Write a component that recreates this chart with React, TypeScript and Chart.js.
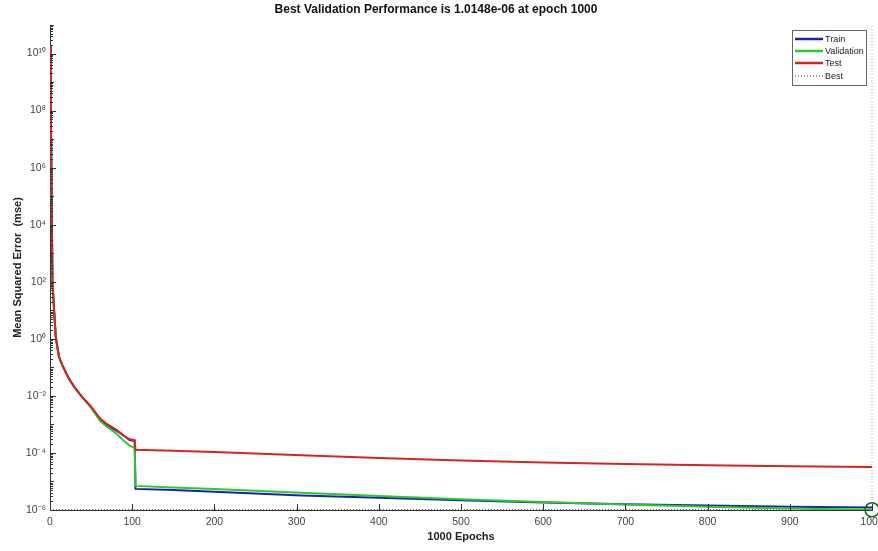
import React, { useEffect, useRef } from 'react';
import { Chart, registerables } from 'chart.js';

Chart.register(...registerables);

// ---- data ----
const trainEpochs = [0, 1, 2, 3, 5, 7, 9, 11, 15, 20, 24, 30, 38, 50, 61, 70, 81, 90, 97, 103, 104, 150, 200, 306, 400, 500, 600, 700, 800, 900, 1000];
const trainMse = [1.8e10, 1e8, 1e5, 1e2, 10, 1.2, 0.5, 0.23, 0.12, 0.06, 0.036, 0.02, 0.01, 0.004, 0.0015, 0.0009, 0.0006, 0.0004, 0.00028, 0.00026, 5.5e-6, 5e-6, 4.4e-6, 3.2e-6, 2.7e-6, 2.2e-6, 1.85e-6, 1.6e-6, 1.45e-6, 1.3e-6, 1.22e-6];

const valEpochs = [0, 1, 2, 3, 5, 7, 9, 11, 15, 20, 24, 30, 38, 50, 61, 70, 81, 90, 97, 103, 104, 150, 200, 306, 400, 500, 600, 700, 800, 900, 1000];
const valMse = [1.8e10, 1e8, 1e5, 1e2, 10, 1.2, 0.5, 0.23, 0.12, 0.06, 0.036, 0.02, 0.01, 0.0038, 0.0013, 0.0008, 0.00047, 0.00026, 0.00018, 0.00015, 7e-6, 6.2e-6, 5.4e-6, 4e-6, 3.1e-6, 2.4e-6, 1.9e-6, 1.55e-6, 1.3e-6, 1.13e-6, 1.0148e-6];

const testEpochs = [0, 1, 2, 3, 5, 7, 9, 11, 15, 20, 24, 30, 38, 50, 61, 70, 81, 90, 97, 103, 104, 150, 200, 306, 400, 500, 600, 700, 800, 900, 1000];
const testMse = [1.8e10, 1e8, 1e5, 1e2, 10, 1.2, 0.5, 0.23, 0.12, 0.06, 0.036, 0.02, 0.01, 0.0042, 0.0016, 0.001, 0.00065, 0.0004, 0.0003, 0.00028, 0.00013, 0.00012, 0.000108, 0.000083, 0.000066, 0.000054, 0.000046, 0.000041, 0.000037, 0.000034, 0.000032];

const bestEpoch = 1000;
const bestValue = 1.0148e-6;

const xTicks = [0, 100, 200, 300, 400, 500, 600, 700, 800, 900, 1000];
const xTickLabels = ['0', '100', '200', '300', '400', '500', '600', '700', '800', '900', '1000'];
const yTickExponents = [-6, -4, -2, 0, 2, 4, 6, 8, 10];
const yTickLabels = ['10⁻⁶', '10⁻⁴', '10⁻²', '10⁰', '10²', '10⁴', '10⁶', '10⁸', '10¹⁰'];

const seriesNames = ['Train', 'Validation', 'Test', 'Best'];
const seriesColors = ['#1a22b0', '#2ec82e', '#d42424', '#333333'];

const titleText = 'Best Validation Performance is 1.0148e-06 at epoch 1000';
const xTitle = '1000 Epochs';
const yTitle = 'Mean Squared Error  (mse)';

const FONT = "'Liberation Sans', Arial, Helvetica, sans-serif";

const toXY = (xs: number[], ys: number[]) => xs.map((x, i) => ({ x, y: ys[i] }));

const innerTicks = {
  id: 'innerTicks',
  afterDatasetsDraw(chart: any) {
    const { ctx, chartArea, scales } = chart;
    const { left, bottom } = chartArea;
    const x = scales.x;
    const y = scales.y;
    ctx.save();
    ctx.strokeStyle = '#333';
    ctx.lineWidth = 1;
    ctx.beginPath();
    for (const v of xTicks) {
      const px = Math.round(x.getPixelForValue(v)) + 0.5;
      ctx.moveTo(px, bottom);
      ctx.lineTo(px, bottom - 6);
    }
    for (let e = -6; e <= 10; e++) {
      for (let k = 1; k <= 9; k++) {
        const v = k * Math.pow(10, e);
        const py = Math.round(y.getPixelForValue(v)) + 0.5;
        const len = k === 1 ? (e % 2 === 0 ? 6 : 4) : 3;
        ctx.moveTo(left, py);
        ctx.lineTo(left + len, py);
      }
    }
    const pTop = Math.round(y.getPixelForValue(1e11)) + 0.5;
    ctx.moveTo(left, pTop);
    ctx.lineTo(left + 4, pTop);
    ctx.stroke();
    ctx.restore();
  },
};

const boxLegend = {
  id: 'boxLegend',
  afterDraw(chart: any) {
    const { ctx, chartArea } = chart;
    const bx = chartArea.right - 80;
    const by = chartArea.top + 5;
    const bw = 74;
    const bh = 55;
    ctx.save();
    ctx.fillStyle = '#fff';
    ctx.fillRect(bx, by, bw, bh);
    ctx.strokeStyle = '#666';
    ctx.lineWidth = 1;
    ctx.strokeRect(bx + 0.5, by + 0.5, bw, bh);
    ctx.font = `9px ${FONT}`;
    ctx.textBaseline = 'middle';
    ctx.textAlign = 'left';
    const offs = [9, 21, 33, 46];
    seriesNames.forEach((name, i) => {
      const ly = by + offs[i];
      ctx.beginPath();
      if (i === 3) {
        ctx.setLineDash([1, 2]);
        ctx.lineWidth = 1;
      } else {
        ctx.setLineDash([]);
        ctx.lineWidth = 2.5;
      }
      ctx.strokeStyle = seriesColors[i];
      ctx.moveTo(bx + 3, ly);
      ctx.lineTo(bx + 31, ly);
      ctx.stroke();
      ctx.fillStyle = '#222';
      ctx.fillText(name, bx + 33, ly + 0.5);
    });
    ctx.restore();
  },
};

export default function App() {
  const ref = useRef<HTMLCanvasElement | null>(null);

  useEffect(() => {
    document.body.style.margin = '0';
    const canvas = ref.current;
    if (!canvas) return;
    const chart = new Chart(canvas, {
      type: 'line',
      data: {
        datasets: [
          {
            label: 'Best',
            data: [{ x: 0, y: bestValue }, { x: bestEpoch, y: bestValue }],
            borderColor: seriesColors[3],
            borderWidth: 1,
            borderDash: [1, 2],
            pointRadius: 0,
            clip: false,
            order: 6,
          },
          {
            label: 'Best vertical',
            data: [{ x: bestEpoch, y: 1e-6 }, { x: bestEpoch, y: 1e11 }],
            borderColor: '#999',
            borderWidth: 1,
            borderDash: [1, 2],
            pointRadius: 0,
            clip: false,
            order: 5,
          },
          {
            label: seriesNames[0],
            data: toXY(trainEpochs, trainMse),
            borderColor: seriesColors[0],
            borderWidth: 2,
            pointRadius: 0,
            order: 4,
          },
          {
            label: seriesNames[1],
            data: toXY(valEpochs, valMse),
            borderColor: seriesColors[1],
            borderWidth: 2,
            pointRadius: 0,
            order: 3,
          },
          {
            label: seriesNames[2],
            data: toXY(testEpochs, testMse),
            borderColor: seriesColors[2],
            borderWidth: 2,
            pointRadius: 0,
            order: 2,
          },
          {
            label: 'Best point',
            data: [{ x: bestEpoch, y: bestValue }],
            showLine: false,
            pointRadius: 7,
            pointBorderWidth: 1.5,
            pointBorderColor: '#106a10',
            pointBackgroundColor: 'rgba(0,0,0,0)',
            borderColor: '#106a10',
            clip: false,
            order: 1,
          },
        ],
      },
      options: {
        animation: false,
        responsive: false,
        devicePixelRatio: 1,
        layout: { autoPadding: false, padding: { left: 0, right: 6, top: 0, bottom: 0 } },
        plugins: {
          legend: { display: false },
          tooltip: { enabled: false },
          title: {
            display: true,
            text: titleText,
            color: '#111',
            font: { family: FONT, size: 12, weight: 'bold', lineHeight: 1.2 },
            padding: { top: 2, bottom: 8.6 },
          },
        },
        scales: {
          x: {
            type: 'linear',
            min: 0,
            max: 1000,
            afterBuildTicks: (scale: any) => {
              scale.ticks = xTicks.map((v) => ({ value: v }));
            },
            afterFit: (scale: any) => {
              scale.height = 41;
              scale.paddingLeft = 0;
              scale.paddingRight = 0;
            },
            grid: { display: false, drawTicks: false },
            border: { display: true, color: '#333', width: 1 },
            ticks: {
              color: '#444',
              font: { family: FONT, size: 10.5 },
              padding: 6,
              maxRotation: 0,
              autoSkip: false,
              callback: (_v: any, i: number) => xTickLabels[i],
            },
            title: {
              display: true,
              text: xTitle,
              color: '#222',
              font: { family: FONT, size: 11, weight: 'bold', lineHeight: 1.2 },
              padding: { top: 0, bottom: 7.4 },
            },
          },
          y: {
            type: 'logarithmic',
            min: 1e-6,
            max: 1e11,
            afterBuildTicks: (scale: any) => {
              scale.ticks = yTickExponents.map((e) => ({ value: Math.pow(10, e) }));
            },
            afterFit: (scale: any) => {
              scale.width = 50;
              scale.paddingTop = 0;
              scale.paddingBottom = 0;
            },
            grid: { display: false, drawTicks: false },
            border: { display: true, color: '#333', width: 1 },
            ticks: {
              color: '#444',
              font: { family: FONT, size: 10.5 },
              padding: 4,
              autoSkip: false,
              callback: (_v: any, i: number) => yTickLabels[i],
            },
            title: {
              display: true,
              text: yTitle,
              color: '#222',
              font: { family: FONT, size: 11, weight: 'bold', lineHeight: 1.2 },
              padding: { top: 11.4, bottom: 0 },
            },
          },
        },
      } as any,
      plugins: [innerTicks, boxLegend],
    });
    return () => chart.destroy();
  }, []);

  return (
    <div style={{ width: 878, height: 551, background: '#fff' }}>
      <canvas ref={ref} width={878} height={551} style={{ display: 'block' }} />
    </div>
  );
}
